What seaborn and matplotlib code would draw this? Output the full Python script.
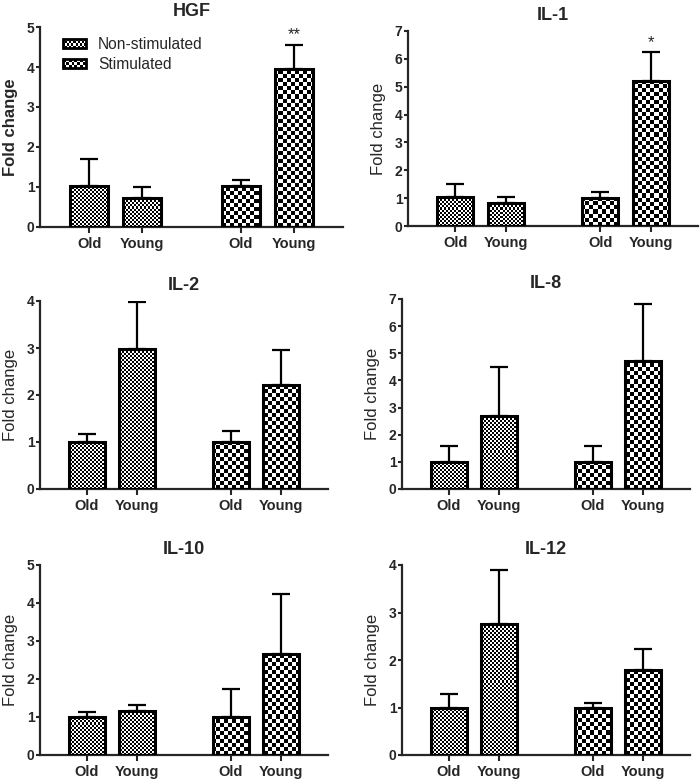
import numpy as np
import pandas as pd
import matplotlib
matplotlib.use('Agg')
import matplotlib.pyplot as plt
import seaborn as sns
from matplotlib.patches import Patch, Rectangle
from matplotlib.legend_handler import HandlerBase
from matplotlib.image import BboxImage
from matplotlib.transforms import Bbox, TransformedBbox
from matplotlib.colors import Normalize

# data: bar order is Non-stim Old, Non-stim Young, Stim Old, Stim Young
panels = ['HGF', 'IL-1', 'IL-2', 'IL-8', 'IL-10', 'IL-12']
groups = ['Non-stimulated', 'Stimulated']
ages = ['Old', 'Young']

hgf_mean = [1.02, 0.73, 1.02, 3.96]
hgf_err = [0.69, 0.27, 0.16, 0.60]
il1_mean = [1.05, 0.84, 1.02, 5.20]
il1_err = [0.47, 0.21, 0.21, 1.03]
il2_mean = [1.00, 2.97, 1.00, 2.21]
il2_err = [0.16, 1.01, 0.23, 0.75]
il8_mean = [0.99, 2.69, 0.99, 4.70]
il8_err = [0.59, 1.82, 0.59, 2.11]
il10_mean = [1.01, 1.17, 1.00, 2.65]
il10_err = [0.12, 0.15, 0.75, 1.59]
il12_mean = [1.00, 2.76, 1.00, 1.78]
il12_err = [0.28, 1.14, 0.09, 0.45]

means = [hgf_mean, il1_mean, il2_mean, il8_mean, il10_mean, il12_mean]
errs = [hgf_err, il1_err, il2_err, il8_err, il10_err, il12_err]
ytop = [5, 7, 4, 7, 5, 4]
stars = ['**', '*', '', '', '', '']

sns.set_style('ticks')
plt.rcParams['font.family'] = ['Liberation Sans', 'DejaVu Sans']

W, H = 700, 779
fig = plt.figure(figsize=(W / 100, H / 100), dpi=100)

# axes boxes in pixels: left, top, right, bottom
boxes = [(40, 27, 343, 227), (408, 31, 698, 226),
         (40, 301, 328, 489), (402, 299, 690, 489),
         (40, 565, 328, 755), (402, 565, 690, 755)]

sq_size = [2, 4]  # checker square size (px) for non-stim / stim


def checker(rows, cols):
    return (np.add.outer(np.arange(rows), np.arange(cols)) % 2).astype(float)


class CheckerHandler(HandlerBase):
    def __init__(self, sq):
        super().__init__()
        self.sq = sq

    def create_artists(self, legend, orig_handle, xdescent, ydescent,
                       width, height, fontsize, trans):
        box = TransformedBbox(Bbox.from_bounds(-xdescent, -ydescent, width, height), trans)
        img = BboxImage(box, cmap='gray', norm=Normalize(0, 1), interpolation='nearest')
        cols = max(1, int(round(width * 100 / 72 / self.sq)))
        rows = max(1, int(round(height * 100 / 72 / self.sq)))
        img.set_data(checker(rows, cols))
        rect = Rectangle((-xdescent, -ydescent), width, height, facecolor='none',
                         edgecolor='black', linewidth=2, transform=trans)
        return [img, rect]


for p, name in enumerate(panels):
    l, t, r, b = boxes[p]
    ax = fig.add_axes([l / W, 1 - b / H, (r - l) / W, (b - t) / H])
    df = pd.DataFrame({'stim': np.repeat(groups, 2), 'age': ages * 2,
                       'value': means[p], 'err': errs[p]})
    sns.barplot(data=df, x='stim', y='value', hue='age', order=groups, hue_order=ages,
                width=0.7, gap=0.29, errorbar=None, palette=['white', 'white'],
                legend=False, ax=ax)

    wpx, hpx = r - l, b - t
    xlim = (-0.5, 1.5)
    centers = []
    bar_conts = list(ax.containers)
    for ci, cont in enumerate(bar_conts):
        for j, bar in enumerate(cont.patches):
            sq = sq_size[j]
            img = ax.imshow(checker(int(hpx / sq), int(wpx / sq)),
                            extent=(xlim[0], xlim[1], 0, ytop[p]), aspect='auto',
                            cmap='gray', vmin=0, vmax=1, interpolation='nearest', zorder=2)
            img.set_clip_path(bar)
            bar.set_facecolor('none')
            bar.set_edgecolor('black')
            bar.set_linewidth(2.2)
            bar.set_zorder(3)
            cx = bar.get_x() + bar.get_width() / 2
            row = df[(df['stim'] == groups[j]) & (df['age'] == ages[ci])].iloc[0]
            ax.errorbar([cx], [row['value']], yerr=[[0], [row['err']]], fmt='none',
                        ecolor='black', elinewidth=1.6, capsize=6.5, capthick=1.6, zorder=1)
            centers.append((cx, ages[ci]))
            if j == 1 and ci == 1 and stars[p]:
                ax.annotate(stars[p], xy=(cx, row['value'] + row['err']), xytext=(0, 2),
                            textcoords='offset points', ha='center', va='bottom', fontsize=12)

    centers.sort()
    ax.set_xticks([c[0] for c in centers])
    ax.set_xticklabels([c[1] for c in centers], fontweight='bold', fontsize=10.5)
    ax.set_xlim(*xlim)
    ax.set_ylim(0, ytop[p])
    ax.set_yticks(range(0, ytop[p] + 1))
    ax.set_yticklabels([str(v) for v in range(0, ytop[p] + 1)], fontweight='bold', fontsize=10)
    ax.tick_params(axis='y', length=3, width=1.5, pad=1)
    ax.tick_params(axis='x', length=4, width=1.5, pad=3)
    ax.set_xlabel('')
    ax.set_ylabel('Fold change', fontsize=12, fontweight='bold' if p == 0 else 'normal',
                  labelpad=6)
    ax.set_title(name, fontsize=13, fontweight='bold', pad=8)
    sns.despine(ax=ax)
    for s in ['left', 'bottom']:
        ax.spines[s].set_linewidth(1.6)

    if p == 0:
        h1 = Patch(label=groups[0])
        h2 = Patch(label=groups[1])
        ax.legend(handles=[h1, h2], labels=groups, loc='upper left',
                  bbox_to_anchor=(0.03, 1.02), frameon=False, fontsize=11.2,
                  handlelength=1.45, handleheight=0.5, handletextpad=0.8, labelspacing=0.3,
                  handler_map={h1: CheckerHandler(2), h2: CheckerHandler(3)})

fig.savefig('out.png', dpi=100)
